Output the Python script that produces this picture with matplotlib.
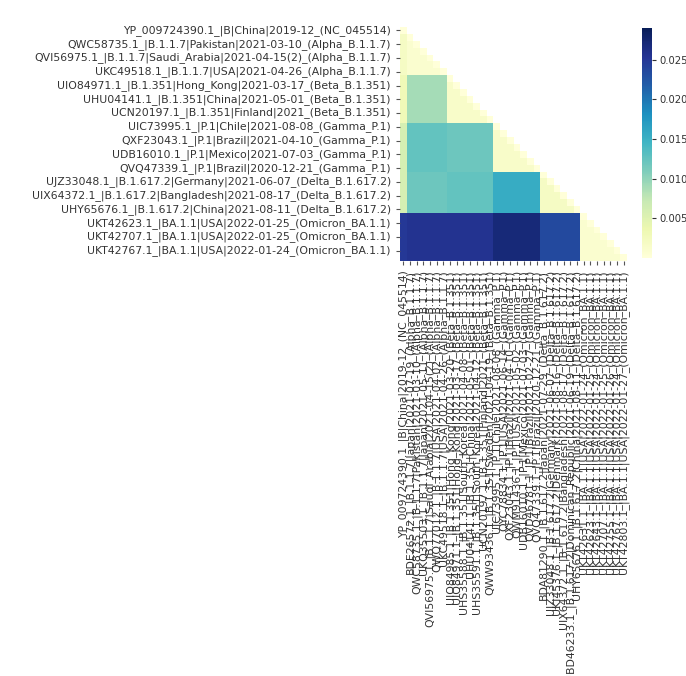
import numpy as np
import pandas as pd
import matplotlib
matplotlib.use('Agg')
import matplotlib.pyplot as plt
import seaborn as sns

# Sequenznamen (Reihenfolge = Zeilen und Spalten der Distanzmatrix)
ref_names = ['YP_009724390.1_|B|China|2019-12_(NC_045514)']
alpha_names = [
    'BDE26572.1_|B.1.1.7|Japan|2021-07-19_(Alpha_B.1.1.7)',
    'QWC58735.1_|B.1.1.7|Pakistan|2021-03-10_(Alpha_B.1.1.7)',
    'UKQ35503.1_|B.1.1.7|Japan|2021-05-11_(Alpha_B.1.1.7)',
    'QVI56975.1_|B.1.1.7|Saudi_Arabia|2021-04-15(2)_(Alpha_B.1.1.7)',
    'QWQ77012.1_|B.1.1.7|USA|2021-04-02_(Alpha_B.1.1.7)',
    'UKC49518.1_|B.1.1.7|USA|2021-04-26_(Alpha_B.1.1.7)',
]
beta_names = [
    'UIO84985.1_|B.1.351|Hong_Kong|2021-03-20_(Beta_B.1.351)',
    'UIO84971.1_|B.1.351|Hong_Kong|2021-03-17_(Beta_B.1.351)',
    'UHS35588.1_|B.1.351|South_Korea|2021-04-08_(Beta_B.1.351)',
    'UHU04141.1_|B.1.351|China|2021-05-01_(Beta_B.1.351)',
    'UHS35591.1_|B.1.351|South_Korea|2021-04-12_(Beta_B.1.351)',
    'UCN20197.1_|B.1.351|Finland|2021_(Beta_B.1.351)',
    'QWW93436.1_|B.1.351|Sweden|2021-04-19_(Beta_B.1.351)',
]
gamma_names = [
    'UIC73995.1_|P.1|Chile|2021-08-08_(Gamma_P.1)',
    'QYC78834.1_|P.1|USA|2021-06-14_(Gamma_P.1)',
    'QXF23043.1_|P.1|Brazil|2021-04-10_(Gamma_P.1)',
    'QWM91436.1_|P.1|USA|2021-05-02_(Gamma_P.1)',
    'UDB16010.1_|P.1|Mexico|2021-07-03_(Gamma_P.1)',
    'QVD46781.1_|P.1|Brazil|2021-02-27_(Gamma_P.1)',
    'QVQ47339.1_|P.1|Brazil|2020-12-21_(Gamma_P.1)',
]
delta_names = [
    'BDA81290.1_|B.1.617.2|Japan|2021-07-29_(Delta_B.1.617.2)',
    'UJZ33048.1_|B.1.617.2|Germany|2021-06-07_(Delta_B.1.617.2)',
    'UKI45376.1_|B.1.617.2|Denmark|2021-08-16_(Delta_B.1.617.2)',
    'UIX64372.1_|B.1.617.2|Bangladesh|2021-08-17_(Delta_B.1.617.2)',
    'UBD46233.1_|B.1.617.2|Dominican_Republic|2021-06-19_(Delta_B.1.617.2)',
    'UHY65676.1_|B.1.617.2|China|2021-08-11_(Delta_B.1.617.2)',
]
omicron_names = [
    'UKT42631.1_|BA.1.1|USA|2022-01-24_(Omicron_BA.1.1)',
    'UKT42623.1_|BA.1.1|USA|2022-01-25_(Omicron_BA.1.1)',
    'UKT42643.1_|BA.1.1|USA|2022-01-24_(Omicron_BA.1.1)',
    'UKT42707.1_|BA.1.1|USA|2022-01-25_(Omicron_BA.1.1)',
    'UKT42755.1_|BA.1.1|USA|2022-01-26_(Omicron_BA.1.1)',
    'UKT42767.1_|BA.1.1|USA|2022-01-24_(Omicron_BA.1.1)',
    'UKT42803.1_|BA.1.1|USA|2022-01-27_(Omicron_BA.1.1)',
]

groups = [ref_names, alpha_names, beta_names, gamma_names, delta_names, omicron_names]

# mittlere p-Distanz zwischen den Linien (Zeile = Gruppe, Spalte = Gruppe)
#              Ref     Alpha   Beta    Gamma   Delta   Omicron
dist_ref =    [0.0,    0.002,  0.003,  0.006,  0.006,  0.025]
dist_alpha =  [0.002,  0.001,  0.009,  0.0125, 0.012,  0.0255]
dist_beta =   [0.003,  0.009,  0.0015, 0.012,  0.0125, 0.0255]
dist_gamma =  [0.006,  0.0125, 0.012,  0.0015, 0.0155, 0.027]
dist_delta =  [0.006,  0.012,  0.0125, 0.0155, 0.002,  0.0235]
dist_omicron = [0.025, 0.0255, 0.0255, 0.027,  0.0235, 0.001]

group_dist = np.array([dist_ref, dist_alpha, dist_beta, dist_gamma, dist_delta, dist_omicron])

names = [n for g in groups for n in g]
sizes = [len(g) for g in groups]

# Blockmatrix aufbauen, Diagonale = 0
mat = np.repeat(np.repeat(group_dist, sizes, axis=0), sizes, axis=1)
np.fill_diagonal(mat, 0.0)
df = pd.DataFrame(mat, index=names, columns=names)

# obere Dreiecksmatrix ausblenden
mask = np.triu(np.ones_like(mat, dtype=bool), k=1)

fs = 7.8
fig = plt.figure(figsize=(6.86, 6.76), dpi=100)
ax = fig.add_axes([400 / 686, 1 - 261 / 676, 227 / 686, 234 / 676])
cax = fig.add_axes([642 / 686, 1 - 258 / 676, 10 / 686, 230 / 676])

sns.heatmap(df, mask=mask, cmap='YlGnBu', vmin=0, vmax=0.029,
            xticklabels=names, yticklabels=2, ax=ax, cbar_ax=cax)

ax.tick_params(axis='both', length=3, color='#555555')
ax.set_xticklabels(names, rotation=90, fontsize=fs, color='#333333')
for lab in ax.get_yticklabels():
    lab.set_rotation(0)
    lab.set_fontsize(fs)
    lab.set_color('#333333')

cax.set_yticks([0.005, 0.010, 0.015, 0.020, 0.025])
cax.set_yticklabels(['0.005', '0.010', '0.015', '0.020', '0.025'], fontsize=7.2)
cax.tick_params(length=3, pad=2, colors='#333333')

fig.savefig('out.png', dpi=100)
plt.close(fig)
